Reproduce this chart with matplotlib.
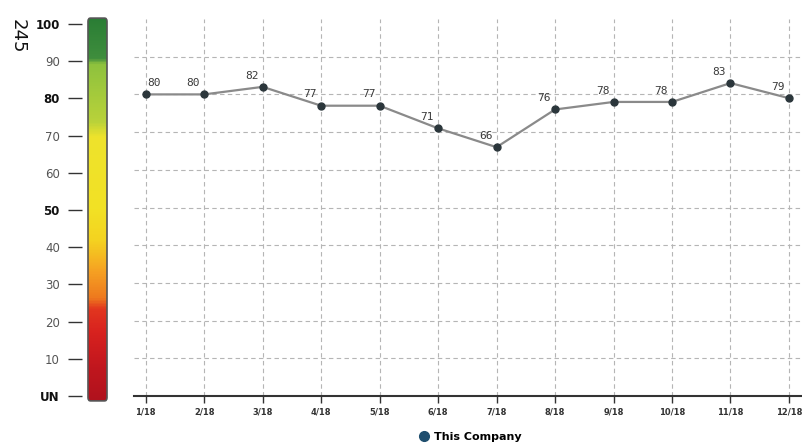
import numpy as np
import matplotlib
matplotlib.use("Agg")
import matplotlib.pyplot as plt
from matplotlib.colors import LinearSegmentedColormap
from matplotlib.patches import FancyBboxPatch
from matplotlib.lines import Line2D

months = ["1/18", "2/18", "3/18", "4/18", "5/18", "6/18",
          "7/18", "8/18", "9/18", "10/18", "11/18", "12/18"]
values = [80, 80, 82, 77, 77, 71, 66, 76, 78, 78, 83, 79]
series_name = "This Company"
gauge_ticks = [0, 10, 20, 30, 40, 50, 60, 70, 80, 90, 100]
gauge_labels = ["UN", "10", "20", "30", "40", "50", "60", "70", "80", "90", "100"]
gauge_bold = ["UN", "50", "80", "100"]
page_number = "245"

W, H = 803, 447
fig = plt.figure(figsize=(W / 100, H / 100), dpi=100)

def px_rect(x0, y0, x1, y1):
    return [x0 / W, 1 - y1 / H, (x1 - x0) / W, (y1 - y0) / H]

# ---------- main chart ----------
ax = fig.add_axes(px_rect(134, 19, 803, 396))
x = np.arange(1, len(months) + 1)
ax.set_xlim(0.8, 12.24)
ax.set_ylim(0, 100)
ax.plot(x, values, color="#8a8a8a", lw=1.6, zorder=3)
ax.plot(x, values, "o", color="#2b363b", ms=5, zorder=4)
for i, (xi, v) in enumerate(zip(x, values)):
    dx = 8 if i == 0 else -11
    ax.annotate(str(v), (xi, v), xytext=(dx * 0.72, 4.5), textcoords="offset points",
                ha="center", va="bottom", fontsize=8, color="#3a3a3a",
                family="DejaVu Sans Mono")
ax.set_xticks(x)
ax.set_xticklabels(months, fontsize=6, fontweight="bold", color="#333333")
ax.set_yticks(range(10, 100, 10))
ax.tick_params(axis="y", left=False, labelleft=False)
ax.tick_params(axis="x", direction="out", length=5, width=1, color="#333333", pad=3)
for s in ["top", "right", "left"]:
    ax.spines[s].set_visible(False)
ax.spines["bottom"].set_color("#333333")
ax.spines["bottom"].set_linewidth(1.5)
ax.grid(True, color="#b5b5b5", lw=0.8, ls=(0, (4, 3)))
ax.set_axisbelow(True)

# legend
handle = Line2D([], [], marker="o", color="#1f4e6e", ls="none", ms=7)
fig.legend([handle], [series_name], loc="center", bbox_to_anchor=(0.585, 0.022),
           frameon=False, prop={"weight": "bold", "size": 8}, handletextpad=0.4,
           handlelength=1.0)

# ---------- gauge ----------
px_per_unit = (396 - 24) / 100.0
top_v = 100 + (24 - 17) / px_per_unit
bot_v = -(402 - 396) / px_per_unit
gx = fig.add_axes(px_rect(82, 17, 108, 402))
gx.set_xlim(0, 26)
gx.set_ylim(bot_v, top_v)

nodes = [
    (0.0, "#b0121d"), (0.08, "#bf161e"), (0.18, "#d8221f"), (0.24, "#e2361f"),
    (0.27, "#ee7a1e"), (0.34, "#f6a223"), (0.42, "#f4d320"), (0.50, "#f2e125"),
    (0.69, "#eee32c"), (0.73, "#b9d23a"), (0.88, "#8ec23e"), (0.895, "#3f8e3d"),
    (1.0, "#2a7d35"),
]
cmap = LinearSegmentedColormap.from_list("gauge", nodes)
grad = np.linspace(0, 1, 400).reshape(-1, 1)
im = gx.imshow(grad, cmap=cmap, aspect="auto", origin="lower",
               extent=[6, 25, bot_v, top_v], zorder=1)
box = FancyBboxPatch((6, bot_v + 0.3), 19, top_v - bot_v - 0.6,
                     boxstyle="round,pad=0,rounding_size=2.5",
                     mutation_aspect=1 / (px_per_unit * 0.75),
                     fc="none", ec="#555555", lw=1.2, zorder=2)
gx.add_patch(box)
im.set_clip_path(box)
for s in gx.spines.values():
    s.set_visible(False)
gx.set_xticks([])
gx.set_yticks(gauge_ticks)
gx.set_yticklabels(gauge_labels, fontsize=8.5)
gx.tick_params(axis="y", length=10, width=1, color="#333333", pad=6)
for lab in gx.get_yticklabels():
    if lab.get_text() in gauge_bold:
        lab.set_fontweight("bold")
        lab.set_color("#111111")
    else:
        lab.set_color("#555555")

fig.text(18 / W, 1 - 36 / H, page_number, rotation=-90, fontsize=13,
         ha="center", va="center", color="#111111")

fig.savefig("out.png", dpi=100)
